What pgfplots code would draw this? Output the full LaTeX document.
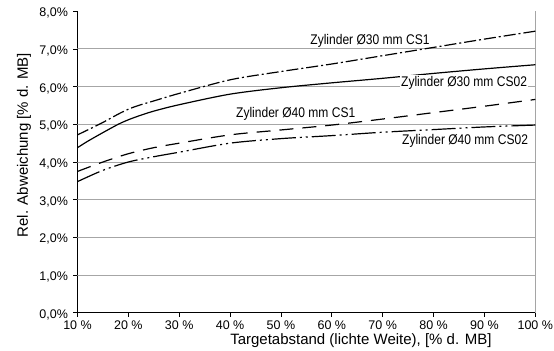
\documentclass[border=0pt]{standalone}
\usepackage{pgfplots}
\pgfplotsset{compat=1.18}
\usepackage{fontspec}
\setmainfont{Liberation Sans}
\newfontfamily\condfont[FakeStretch=0.86]{Liberation Sans}

\begin{document}
\begin{tikzpicture}
\useasboundingbox (-77.5bp,-38.2bp) rectangle (476.5bp,312.8bp);
\begin{axis}[
  scale only axis, width=457.8bp, height=301.6bp,
  xmin=10, xmax=100, ymin=0, ymax=8,
  axis x line*=bottom, axis y line*=left,
  axis line style={black, line width=0.9bp, -},
  xtick={10,20,...,100},
  xticklabels={10 \%,20 \%,30 \%,40 \%,50 \%,60 \%,70 \%,80 \%,90 \%,100 \%},
  ytick={0,1,...,8},
  yticklabels={{0,0\%},{1,0\%},{2,0\%},{3,0\%},{4,0\%},{5,0\%},{6,0\%},{7,0\%},{8,0\%}},
  tick align=outside, major tick length=4bp,
  tick style={black, line width=0.8bp},
  ticklabel style={font=\fontsize{12.5bp}{14bp}\selectfont},
  yticklabel style={xshift=-2bp, yshift=-2bp},
  xlabel={Targetabstand (lichte Weite), [\% d. MB]},
  ylabel={Rel. Abweichung [\% d. MB]},
  label style={font=\fontsize{15bp}{18bp}\selectfont},
  xlabel style={at={(rel axis cs:0.619,0)}, anchor=center, yshift=-28bp},
  ylabel style={at={(rel axis cs:0,0.556)}, anchor=center, rotate=0, yshift=53.5bp},
]
\pgfplotsinvokeforeach{1,...,7}{
  \draw[black!35, line width=0.9bp] (axis cs:10,#1) -- (axis cs:100,#1);
}
\draw[black, line width=0.9bp] (rel axis cs:1,0) -- (rel axis cs:1,1);

% Zylinder 30 mm CS1 (dash-dot)
\addplot[black, line width=1.2bp, smooth, dash pattern=on 12bp off 3bp on 2bp off 3bp] coordinates {
(10,4.72) (12,4.85) (15,5.05) (18,5.27) (20,5.40) (22,5.50) (25,5.62) (30,5.82)
(40,6.18) (50,6.40) (60,6.60) (70,6.82) (80,7.04) (90,7.26) (100,7.47)};

% Zylinder 30 mm CS02 (solid)
\addplot[black, line width=1.2bp, smooth] coordinates {
(10,4.38) (12,4.55) (15,4.78) (18,5.00) (20,5.12) (22,5.22) (25,5.35) (30,5.52)
(40,5.80) (50,5.97) (60,6.10) (70,6.22) (80,6.35) (90,6.47) (100,6.58)};

% Zylinder 40 mm CS1 (dashed)
\addplot[black, line width=1.2bp, smooth, dash pattern=on 14bp off 9bp] coordinates {
(10,3.75) (15,4.00) (20,4.22) (25,4.38) (30,4.50) (40,4.72) (50,4.85)
(60,4.98) (70,5.14) (80,5.31) (90,5.48) (100,5.66)};

% Zylinder 40 mm CS02 (dash-dot-dot)
\addplot[black, line width=1.2bp, smooth, dash pattern=on 24bp off 4bp on 2bp off 4bp on 2bp off 4bp] coordinates {
(10,3.48) (15,3.78) (20,4.00) (25,4.14) (30,4.26) (40,4.50) (50,4.62)
(60,4.70) (70,4.79) (80,4.86) (90,4.93) (100,4.98)};

\node[font=\condfont\fontsize{14bp}{16bp}\selectfont, inner sep=1bp] at (axis cs:67.5,7.21) {Zylinder Ø30 mm CS1};
\node[font=\condfont\fontsize{14bp}{16bp}\selectfont, inner sep=1bp, fill=white] at (axis cs:86.0,6.10) {Zylinder Ø30 mm CS02};
\node[font=\condfont\fontsize{14bp}{16bp}\selectfont, inner sep=1bp] at (axis cs:52.9,5.27) {Zylinder Ø40 mm CS1};
\node[font=\condfont\fontsize{14bp}{16bp}\selectfont, inner sep=1bp] at (axis cs:86.2,4.56) {Zylinder Ø40 mm CS02};
\end{axis}
\end{tikzpicture}
\end{document}
